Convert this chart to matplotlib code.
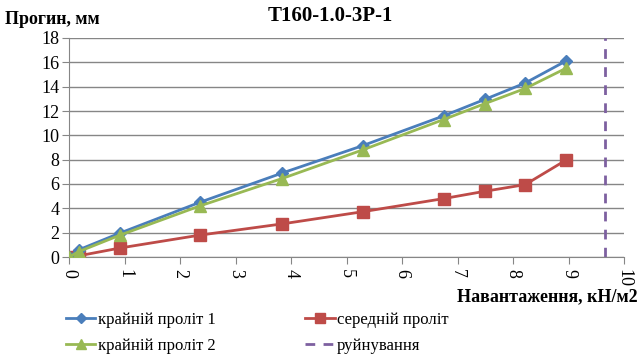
import matplotlib
matplotlib.use("Agg")
import matplotlib.pyplot as plt
from matplotlib.lines import Line2D

plt.rcParams['font.family'] = ['Liberation Serif', 'DejaVu Serif']

load = [0, 0.18, 0.92, 2.36, 3.84, 5.29, 6.75, 7.49, 8.22, 8.95]
edge1 = [0, 0.6, 1.97, 4.5, 6.9, 9.15, 11.6, 12.95, 14.3, 16.1]
middle = [0, 0.1, 0.74, 1.8, 2.72, 3.72, 4.8, 5.4, 5.95, 7.95]
edge2 = [0, 0.45, 1.8, 4.2, 6.45, 8.8, 11.3, 12.6, 13.85, 15.5]
failure = 9.66

title = "Т160-1.0-3Р-1"
ylabel = "Прогин, мм"
xlabel = "Навантаження, кН/м2"
labels = ["крайній проліт 1", "середній проліт", "крайній проліт 2", "руйнування"]

blue, red, green, purple = "#4A7EBB", "#BE4B48", "#98B954", "#7D60A0"

fig = plt.figure(figsize=(6.42, 3.64), dpi=100)
ax = fig.add_axes([69/642, 1-257/364, (624-69)/642, (257-38)/364])

ax.plot(load, edge1, color=blue, lw=2, marker="D", ms=6, zorder=4)
ax.plot(load, middle, color=red, lw=2, marker="s", ms=8, zorder=3)
ax.plot(load, edge2, color=green, lw=2, marker="^", ms=8, zorder=5)
ax.axvline(failure, color=purple, lw=2, ls=(0, (3.5, 3)), zorder=2)

ax.set_xlim(0, 10)
ax.set_ylim(0, 18)
ax.set_xticks(range(0, 11))
ax.set_yticks(range(0, 19, 2))
ax.grid(axis="y", color="#868686", lw=1)
ax.set_axisbelow(True)
for s in ["top", "right"]:
    ax.spines[s].set_visible(False)
for s in ["left", "bottom"]:
    ax.spines[s].set_color("#868686")
ax.tick_params(axis="both", colors="#868686", labelcolor="black", labelsize=13, length=5)
ax.tick_params(axis="x", labelrotation=-90)
ax.tick_params(axis="y", pad=2)

fig.text(330/642, 1-16/364, title, ha="center", va="center", fontsize=15, fontweight="bold")
fig.text(5/642, 1-20/364, ylabel, ha="left", va="center", fontsize=13, fontweight="bold")
fig.text(638/642, 1-297/364, xlabel, ha="right", va="center", fontsize=13, fontweight="bold")

h_e1 = Line2D([], [], color=blue, lw=2, marker="D", ms=5)
h_mid = Line2D([], [], color=red, lw=2, marker="s", ms=7)
h_e2 = Line2D([], [], color=green, lw=2, marker="^", ms=7)
h_fail = Line2D([], [], color=purple, lw=2, ls=(0, (3.5, 3)))
# matplotlib fills legend columns first: order so rows read [edge1, middle], [edge2, failure]
handles = [h_e1, h_e2, h_mid, h_fail]
leg_labels = [labels[0], labels[2], labels[1], labels[3]]
fig.legend(handles, leg_labels, ncol=2, loc="upper left", bbox_to_anchor=(66/642, 1-312/364),
           frameon=False, fontsize=12, handlelength=1.75, handletextpad=0.15,
           columnspacing=5.4, labelspacing=0.6, borderpad=0, borderaxespad=0)
fig.savefig("out.png", dpi=100)
